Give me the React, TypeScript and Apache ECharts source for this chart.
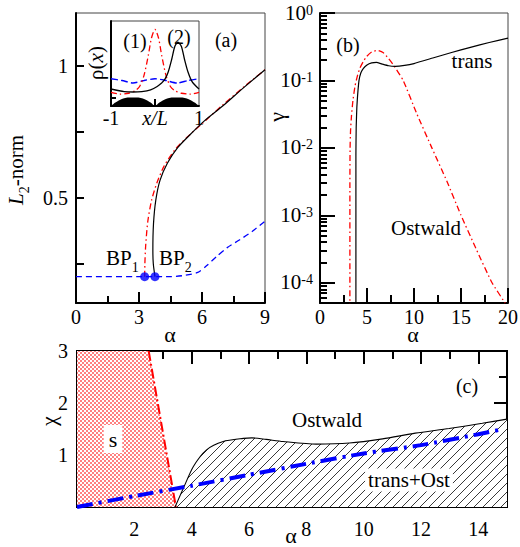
import React, { useEffect, useRef } from 'react';
import * as echarts from 'echarts';

const FONT = 'Liberation Serif';

// ---------- Panel (a): L2-norm vs alpha ----------
const A_BLUE_ALPHA = [0, 4.5, 5.2, 5.8, 6.2, 6.7, 7.2, 7.8, 8.4, 9];
const A_BLUE_L2 = [0.2, 0.2, 0.205, 0.216, 0.24, 0.277, 0.31, 0.34, 0.372, 0.41];
const A_RED_ALPHA = [3.27, 3.28, 3.32, 3.42, 3.6, 3.85, 4.2, 4.7, 5.3, 6.0, 7, 8, 9];
const A_RED_L2 = [0.2, 0.25, 0.32, 0.41, 0.49, 0.555, 0.62, 0.68, 0.73, 0.78, 0.852, 0.92, 0.985];
const A_BLACK_ALPHA = [3.76, 3.68, 3.66, 3.69, 3.8, 4.0, 4.35, 4.85, 5.45, 6.1, 7, 8, 9];
const A_BLACK_L2 = [0.2, 0.25, 0.3, 0.4, 0.49, 0.565, 0.63, 0.69, 0.74, 0.79, 0.848, 0.918, 0.985];
const BP_ALPHA = [3.27, 3.76];
const BP_L2 = [0.2, 0.2];
const A_Y_TICKS = [0.25, 0.5, 0.75, 1];
const A_Y_LABELS = [0.5, 1];

// ---------- Inset: rho(x) vs x/L ----------
const IN_RED_X = [-1, -0.8, -0.6, -0.45, -0.35, -0.25, -0.15, -0.08, 0, 0.08, 0.15, 0.25, 0.35, 0.45, 0.6, 0.8, 1];
const IN_RED_Y = [0.16, 0.14, 0.15, 0.18, 0.23, 0.36, 0.6, 0.8, 0.9, 0.8, 0.6, 0.36, 0.23, 0.18, 0.15, 0.14, 0.16];
const IN_BLACK_X = [-1, -0.7, -0.5, -0.3, -0.1, 0.05, 0.15, 0.23, 0.3, 0.38, 0.45, 0.52, 0.6, 0.67, 0.75, 0.85, 1];
const IN_BLACK_Y = [0.2, 0.17, 0.165, 0.17, 0.19, 0.23, 0.27, 0.32, 0.4, 0.55, 0.7, 0.75, 0.7, 0.55, 0.4, 0.28, 0.2];
const IN_BLUE_X = [-1, -0.75, -0.5, -0.25, 0, 0.25, 0.5, 0.75, 1];
const IN_BLUE_Y = [0.32, 0.3, 0.27, 0.3, 0.32, 0.3, 0.27, 0.3, 0.32];
const IN_POT_X = [-1, -0.9, -0.8, -0.7, -0.6, -0.5, -0.4, -0.3, -0.2, -0.1, 0, 0.1, 0.2, 0.3, 0.4, 0.5, 0.6, 0.7, 0.8, 0.9, 1];
const IN_POT_Y = [0, 0.04, 0.07, 0.09, 0.1, 0.1, 0.1, 0.09, 0.07, 0.04, 0, 0.04, 0.07, 0.09, 0.1, 0.1, 0.1, 0.09, 0.07, 0.04, 0];
const IN_X_LABELS = [-1, 0, 1];

// ---------- Panel (b): gamma vs alpha (log) ----------
const B_RED_ALPHA = [3.18, 3.18, 3.2, 3.25, 3.35, 3.5, 3.72, 4.0, 4.25, 4.6, 4.96, 5.5, 6.09, 6.7, 7.25, 7.8, 8.85, 10.3, 11.9, 13.5, 15.0, 16.6, 18.3, 19.7];
const B_RED_GAMMA = [4e-5, 3e-3, 0.01, 0.018, 0.03, 0.05, 0.082, 0.12, 0.153, 0.19, 0.227, 0.265, 0.279, 0.26, 0.215, 0.17, 0.1, 0.032, 0.01, 0.0032, 0.001, 3.2e-4, 1e-4, 5e-5];
const B_BLACK_ALPHA = [3.82, 3.82, 3.85, 3.92, 4.0, 4.15, 4.35, 4.6, 5.0, 5.5, 6.0, 6.6, 7.3, 8.0, 9, 10, 12, 14, 16, 18, 20];
const B_BLACK_GAMMA = [4e-5, 0.008, 0.02, 0.04, 0.06, 0.1, 0.13, 0.15, 0.17, 0.182, 0.185, 0.175, 0.165, 0.162, 0.167, 0.178, 0.215, 0.26, 0.31, 0.365, 0.425];
const B_Y_DECADES = [-4, -3, -2, -1, 0];
const B_Y_MANTISSA = [2, 3, 4, 5, 6, 7, 8, 9];

// ---------- Panel (c): chi vs alpha ----------
const C_S_ALPHA = [0, 2.5, 3.45];
const C_S_CHI = [3, 3, 0];
const C_RED_ALPHA = [2.5, 3.45];
const C_RED_CHI = [3, 0];
const C_BLACK_ALPHA = [3.42, 3.71, 4.06, 4.52, 5.1, 5.8, 6.1, 6.6, 7.19, 8.35, 9.5, 10.66, 11.8, 12.98, 14.14, 15];
const C_BLACK_CHI = [0, 0.36, 0.78, 1.1, 1.26, 1.32, 1.33, 1.3, 1.26, 1.21, 1.23, 1.31, 1.42, 1.51, 1.61, 1.69];
const C_BLUE_ALPHA = [0, 2, 4, 6, 8, 10, 12, 14, 14.7];
const C_BLUE_CHI = [0, 0.21, 0.41, 0.62, 0.83, 1.03, 1.19, 1.4, 1.48];
const C_X_MAJOR = [2, 4, 6, 8, 10, 12, 14];
const C_X_MINOR = [1, 3, 5, 7, 9, 11, 13];
const C_Y_LABELS = [1, 2, 3];

const zip = (xs: number[], ys: number[]) => xs.map((x, i) => [x, ys[i]]);

function makeStipple() {
  const c = document.createElement('canvas');
  c.width = 4; c.height = 4;
  const g = c.getContext('2d')!;
  g.fillStyle = '#ffffff'; g.fillRect(0, 0, 4, 4);
  g.fillStyle = '#ff8080';
  g.fillRect(0, 0, 2, 2); g.fillRect(2, 2, 2, 2);
  return c;
}
function makeHatch() {
  const c = document.createElement('canvas');
  c.width = 9; c.height = 9;
  const g = c.getContext('2d')!;
  g.fillStyle = '#ffffff'; g.fillRect(0, 0, 9, 9);
  g.strokeStyle = '#222'; g.lineWidth = 0.9;
  g.beginPath();
  g.moveTo(-1, 10); g.lineTo(10, -1);
  g.moveTo(-1, 1); g.lineTo(1, -1);
  g.moveTo(8, 10); g.lineTo(10, 8);
  g.stroke();
  return c;
}

const AX = { color: '#000', width: 2 };
const TK = { color: '#000', width: 2 };
const LBL = { color: '#000', fontFamily: FONT, fontSize: 20 };
const RT = { t: { ...LBL, lineHeight: 15 } };
const rt = (s: string) => `{t|${s}}`;

function txt(text: string, x: number, y: number, o: any = {}) {
  return {
    type: 'text', x, y, z: 100, rotation: o.rot || 0,
    style: {
      text, fill: '#000', fontFamily: FONT, fontSize: o.size || 21,
      align: o.align || 'center', verticalAlign: 'middle',
      lineHeight: o.lh, rich: o.rich, backgroundColor: o.bg, padding: o.pad,
    },
  };
}

function buildOption() {
  const bMinor: number[] = [];
  [-5, -4, -3, -2, -1].forEach((d) => B_Y_MANTISSA.forEach((m) => {
    const v = d + Math.log10(m);
    if (v > -4.3 && v < 0) bMinor.push(v);
  }));
  const stipple = makeStipple();
  const hatch = makeHatch();
  const noSplit = { show: false };

  const xAxis: any[] = [
    { gridIndex: 0, type: 'value', min: 0, max: 9, interval: 3, position: 'bottom',
      axisLine: { onZero: false, lineStyle: AX },
      axisTick: { inside: true, length: 11, lineStyle: TK },
      minorTick: { show: true, splitNumber: 2, length: 7, lineStyle: TK },
      axisLabel: { ...LBL, margin: 6, lineHeight: 15, formatter: (v: number) => rt(String(v)), rich: RT }, splitLine: noSplit },
    { gridIndex: 1, type: 'value', min: 0, max: 20, interval: 5, position: 'bottom',
      axisLine: { onZero: false, lineStyle: AX },
      axisTick: { inside: true, length: 15, lineStyle: TK },
      minorTick: { show: true, splitNumber: 2, length: 8, lineStyle: TK },
      axisLabel: { ...LBL, margin: 6, lineHeight: 15, formatter: (v: number) => rt(String(v)), rich: RT }, splitLine: noSplit },
    { gridIndex: 2, type: 'value', min: -1, max: 1, position: 'bottom',
      axisLine: { onZero: false, lineStyle: AX },
      axisTick: { inside: true, length: 7, customValues: [0], lineStyle: TK },
      axisLabel: { ...LBL, margin: 4, lineHeight: 15, customValues: IN_X_LABELS,
        formatter: (v: number) => (v === 0 ? '{i|x/L}' : rt(String(v))),
        rich: { ...RT, i: { ...LBL, lineHeight: 15, fontStyle: 'italic' } } },
      splitLine: noSplit },
    { gridIndex: 3, type: 'value', min: 0, max: 15, position: 'bottom',
      axisLine: { onZero: false, lineStyle: AX },
      axisTick: { inside: true, length: 13, customValues: C_X_MAJOR, lineStyle: TK },
      axisLabel: { ...LBL, margin: 14, lineHeight: 15, customValues: C_X_MAJOR, formatter: (v: number) => rt(String(v)), rich: RT }, splitLine: noSplit },
    { gridIndex: 3, type: 'value', min: 0, max: 15, position: 'bottom',
      axisLine: { show: false, onZero: false },
      axisTick: { inside: true, length: 8, customValues: C_X_MINOR, lineStyle: TK },
      axisLabel: { show: false }, splitLine: noSplit },
    { gridIndex: 3, type: 'value', min: 0, max: 15, position: 'top',
      axisLine: { onZero: false, lineStyle: AX },
      axisTick: { inside: true, length: 13, customValues: C_X_MAJOR, lineStyle: TK },
      axisLabel: { show: false }, splitLine: noSplit },
    { gridIndex: 3, type: 'value', min: 0, max: 15, position: 'top',
      axisLine: { show: false, onZero: false },
      axisTick: { inside: true, length: 8, customValues: C_X_MINOR, lineStyle: TK },
      axisLabel: { show: false }, splitLine: noSplit },
  ];

  const yAxis: any[] = [
    { gridIndex: 0, type: 'value', min: 0.1, max: 1.2, position: 'left',
      axisLine: { onZero: false, lineStyle: AX },
      axisTick: { inside: true, length: 8, customValues: A_Y_TICKS, lineStyle: TK },
      axisLabel: { ...LBL, margin: 8, customValues: A_Y_LABELS, formatter: (v: number) => rt(String(v)), rich: RT },
      splitLine: noSplit },
    { gridIndex: 1, type: 'value', min: -4.3, max: 0, position: 'left',
      axisLine: { onZero: false, lineStyle: AX },
      axisTick: { inside: true, length: 15, customValues: B_Y_DECADES, lineStyle: TK },
      axisLabel: { ...LBL, margin: 7, customValues: B_Y_DECADES,
        formatter: (v: number) => `{b|10}{s|${v}}`,
        rich: {
          b: { ...LBL, fontSize: 21, lineHeight: 20, verticalAlign: 'bottom' },
          s: { ...LBL, fontSize: 14, lineHeight: 13, verticalAlign: 'top', padding: [0, 0, 12, 0] },
        } },
      splitLine: noSplit },
    { gridIndex: 1, type: 'value', min: -4.3, max: 0, position: 'left',
      axisLine: { show: false, onZero: false },
      axisTick: { inside: true, length: 7, customValues: bMinor, lineStyle: TK },
      axisLabel: { show: false }, splitLine: noSplit },
    { gridIndex: 2, type: 'value', min: 0, max: 1, position: 'left',
      axisLine: { onZero: false, lineStyle: AX },
      axisTick: { inside: true, length: 5, customValues: [0.1], lineStyle: TK },
      axisLabel: { show: false }, splitLine: noSplit },
    { gridIndex: 3, type: 'value', min: 0, max: 3, interval: 1, position: 'left',
      axisLine: { onZero: false, lineStyle: AX },
      axisTick: { inside: true, length: 13, lineStyle: TK },
      minorTick: { show: true, splitNumber: 2, length: 8, lineStyle: TK },
      axisLabel: { ...LBL, margin: 9, lineHeight: 15, customValues: C_Y_LABELS, formatter: (v: number) => rt(String(v)), rich: RT }, splitLine: noSplit },
    { gridIndex: 3, type: 'value', min: 0, max: 3, interval: 1, position: 'right',
      axisLine: { onZero: false, lineStyle: AX },
      axisTick: { inside: true, length: 13, lineStyle: TK },
      minorTick: { show: true, splitNumber: 2, length: 8, lineStyle: TK },
      axisLabel: { show: false }, splitLine: noSplit },
  ];

  const line = (xi: number, yi: number, data: number[][], color: string, width: number, type: any, extra: any = {}) => ({
    type: 'line', xAxisIndex: xi, yAxisIndex: yi, data, symbol: 'none', showSymbol: false,
    lineStyle: { color, width, type }, smooth: 0.25, clip: true, ...extra,
  });

  const series: any[] = [
    line(0, 0, zip(A_BLUE_ALPHA, A_BLUE_L2), '#0000ff', 1.3, [6, 4]),
    line(0, 0, zip(A_RED_ALPHA, A_RED_L2), '#ff0000', 1.3, [6, 3, 1.5, 3]),
    line(0, 0, zip(A_BLACK_ALPHA, A_BLACK_L2), '#000000', 1.2, 'solid'),
    { type: 'scatter', xAxisIndex: 0, yAxisIndex: 0, data: zip(BP_ALPHA, BP_L2), symbolSize: 9,
      itemStyle: { color: '#0000ff' }, z: 5 },
    line(1, 1, zip(B_RED_ALPHA, B_RED_GAMMA.map((g) => Math.log10(g))), '#ff0000', 1.3, [6, 3, 1.5, 3], { smooth: 0.15 }),
    line(1, 1, zip(B_BLACK_ALPHA, B_BLACK_GAMMA.map((g) => Math.log10(g))), '#000000', 1.2, 'solid', { smooth: 0.15 }),
    line(2, 3, zip(IN_POT_X, IN_POT_Y), '#000', 0, 'solid', { areaStyle: { color: '#000', opacity: 1 } }),
    line(2, 3, zip(IN_BLUE_X, IN_BLUE_Y), '#0000ff', 1.4, [7, 3]),
    line(2, 3, zip(IN_RED_X, IN_RED_Y), '#ff0000', 1.3, [6, 3, 1.5, 3]),
    line(2, 3, zip(IN_BLACK_X, IN_BLACK_Y), '#000000', 1.3, 'solid'),
    line(3, 4, zip(C_S_ALPHA, C_S_CHI), '#ff0000', 0, 'solid', { smooth: false,
      lineStyle: { width: 0, opacity: 0 },
      areaStyle: { color: { image: stipple, repeat: 'repeat', imageWidth: 4, imageHeight: 4 }, opacity: 1 } }),
    line(3, 4, zip(C_RED_ALPHA, C_RED_CHI), '#ff0000', 2, [10, 3, 2, 3], { smooth: false }),
    line(3, 4, zip(C_BLACK_ALPHA, C_BLACK_CHI), '#000000', 1.1, 'solid', {
      areaStyle: { color: { image: hatch, repeat: 'repeat', imageWidth: 9, imageHeight: 9 }, opacity: 1 } }),
    line(3, 4, zip(C_BLUE_ALPHA, C_BLUE_CHI), '#0000ff', 4, [16, 6, 3, 6], { smooth: 0.2 }),
  ];

  const sub = { fontFamily: FONT, fill: '#000' };
  const bpRich = {
    m: { ...sub, fontSize: 21, verticalAlign: 'top', padding: [0, 0, 6, 0] },
    s: { ...sub, fontSize: 14, verticalAlign: 'bottom' },
  };
  const graphic: any[] = [
    txt('α', 170, 334, { lh: 10, size: 22 }),
    txt('α', 413, 334, { lh: 10, size: 22 }),
    txt('α', 291, 535, { lh: 10, size: 22 }),
    txt('{i|L}{s|2}{n|-norm}', 18, 170, { rot: Math.PI / 2, rich: {
      i: { ...sub, fontSize: 21, fontStyle: 'italic', verticalAlign: 'bottom', padding: [0, 0, 5, 0] },
      s: { ...sub, fontSize: 14, verticalAlign: 'bottom' },
      n: { ...sub, fontSize: 21, verticalAlign: 'bottom', padding: [0, 0, 5, 0] } } }),
    txt('γ', 276, 117, { rot: Math.PI / 2, size: 22 }),
    txt('χ', 48, 421, { rot: Math.PI / 2, size: 22 }),
    txt('{n|ρ(}{i|x}{n|)}', 96, 63, { rot: Math.PI / 2, rich: {
      n: { ...sub, fontSize: 21 }, i: { ...sub, fontSize: 21, fontStyle: 'italic' } } }),
    txt('(a)', 226, 40, { size: 20 }),
    txt('(1)', 135, 41, { size: 20 }),
    txt('(2)', 179, 37, { size: 20 }),
    txt('{m|BP}{s|1}', 106, 261, { align: 'left', rich: bpRich }),
    txt('{m|BP}{s|2}', 159, 261, { align: 'left', rich: bpRich }),
    txt('(b)', 348, 45, { size: 20 }),
    txt('trans', 472, 61),
    txt('Ostwald', 426, 228),
    txt('(c)', 467, 386, { size: 20 }),
    txt('Ostwald', 327, 420),
    txt('trans+Ost', 409, 480, { bg: '#ffffff', pad: [1, 3] }),
    txt('s', 113, 439, { bg: '#ffffff', pad: [3, 5], size: 22 }),
  ];

  return {
    animation: false,
    backgroundColor: '#ffffff',
    textStyle: { fontFamily: FONT },
    grid: [
      { left: 76, top: 13, width: 189, height: 290, show: true, borderColor: '#444', borderWidth: 1, outerBoundsMode: 'none' },
      { left: 320, top: 13, width: 188, height: 290, show: true, borderColor: '#444', borderWidth: 1, outerBoundsMode: 'none' },
      { left: 111, top: 21, width: 88, height: 85, show: true, borderColor: '#444', borderWidth: 1, backgroundColor: '#fff', outerBoundsMode: 'none' },
      { left: 77, top: 351, width: 430, height: 156, show: true, borderColor: '#000', borderWidth: 2, outerBoundsMode: 'none' },
    ],
    xAxis, yAxis, series, graphic,
  };
}

export default function App() {
  const ref = useRef<HTMLDivElement>(null);
  useEffect(() => {
    const chart = echarts.init(ref.current!, null, { renderer: 'svg', width: 520, height: 547 });
    chart.setOption(buildOption() as any);
    return () => chart.dispose();
  }, []);
  return (
    <div ref={ref} style={{ position: 'fixed', left: 0, top: 0, width: 520, height: 547, background: '#fff' }} />
  );
}
